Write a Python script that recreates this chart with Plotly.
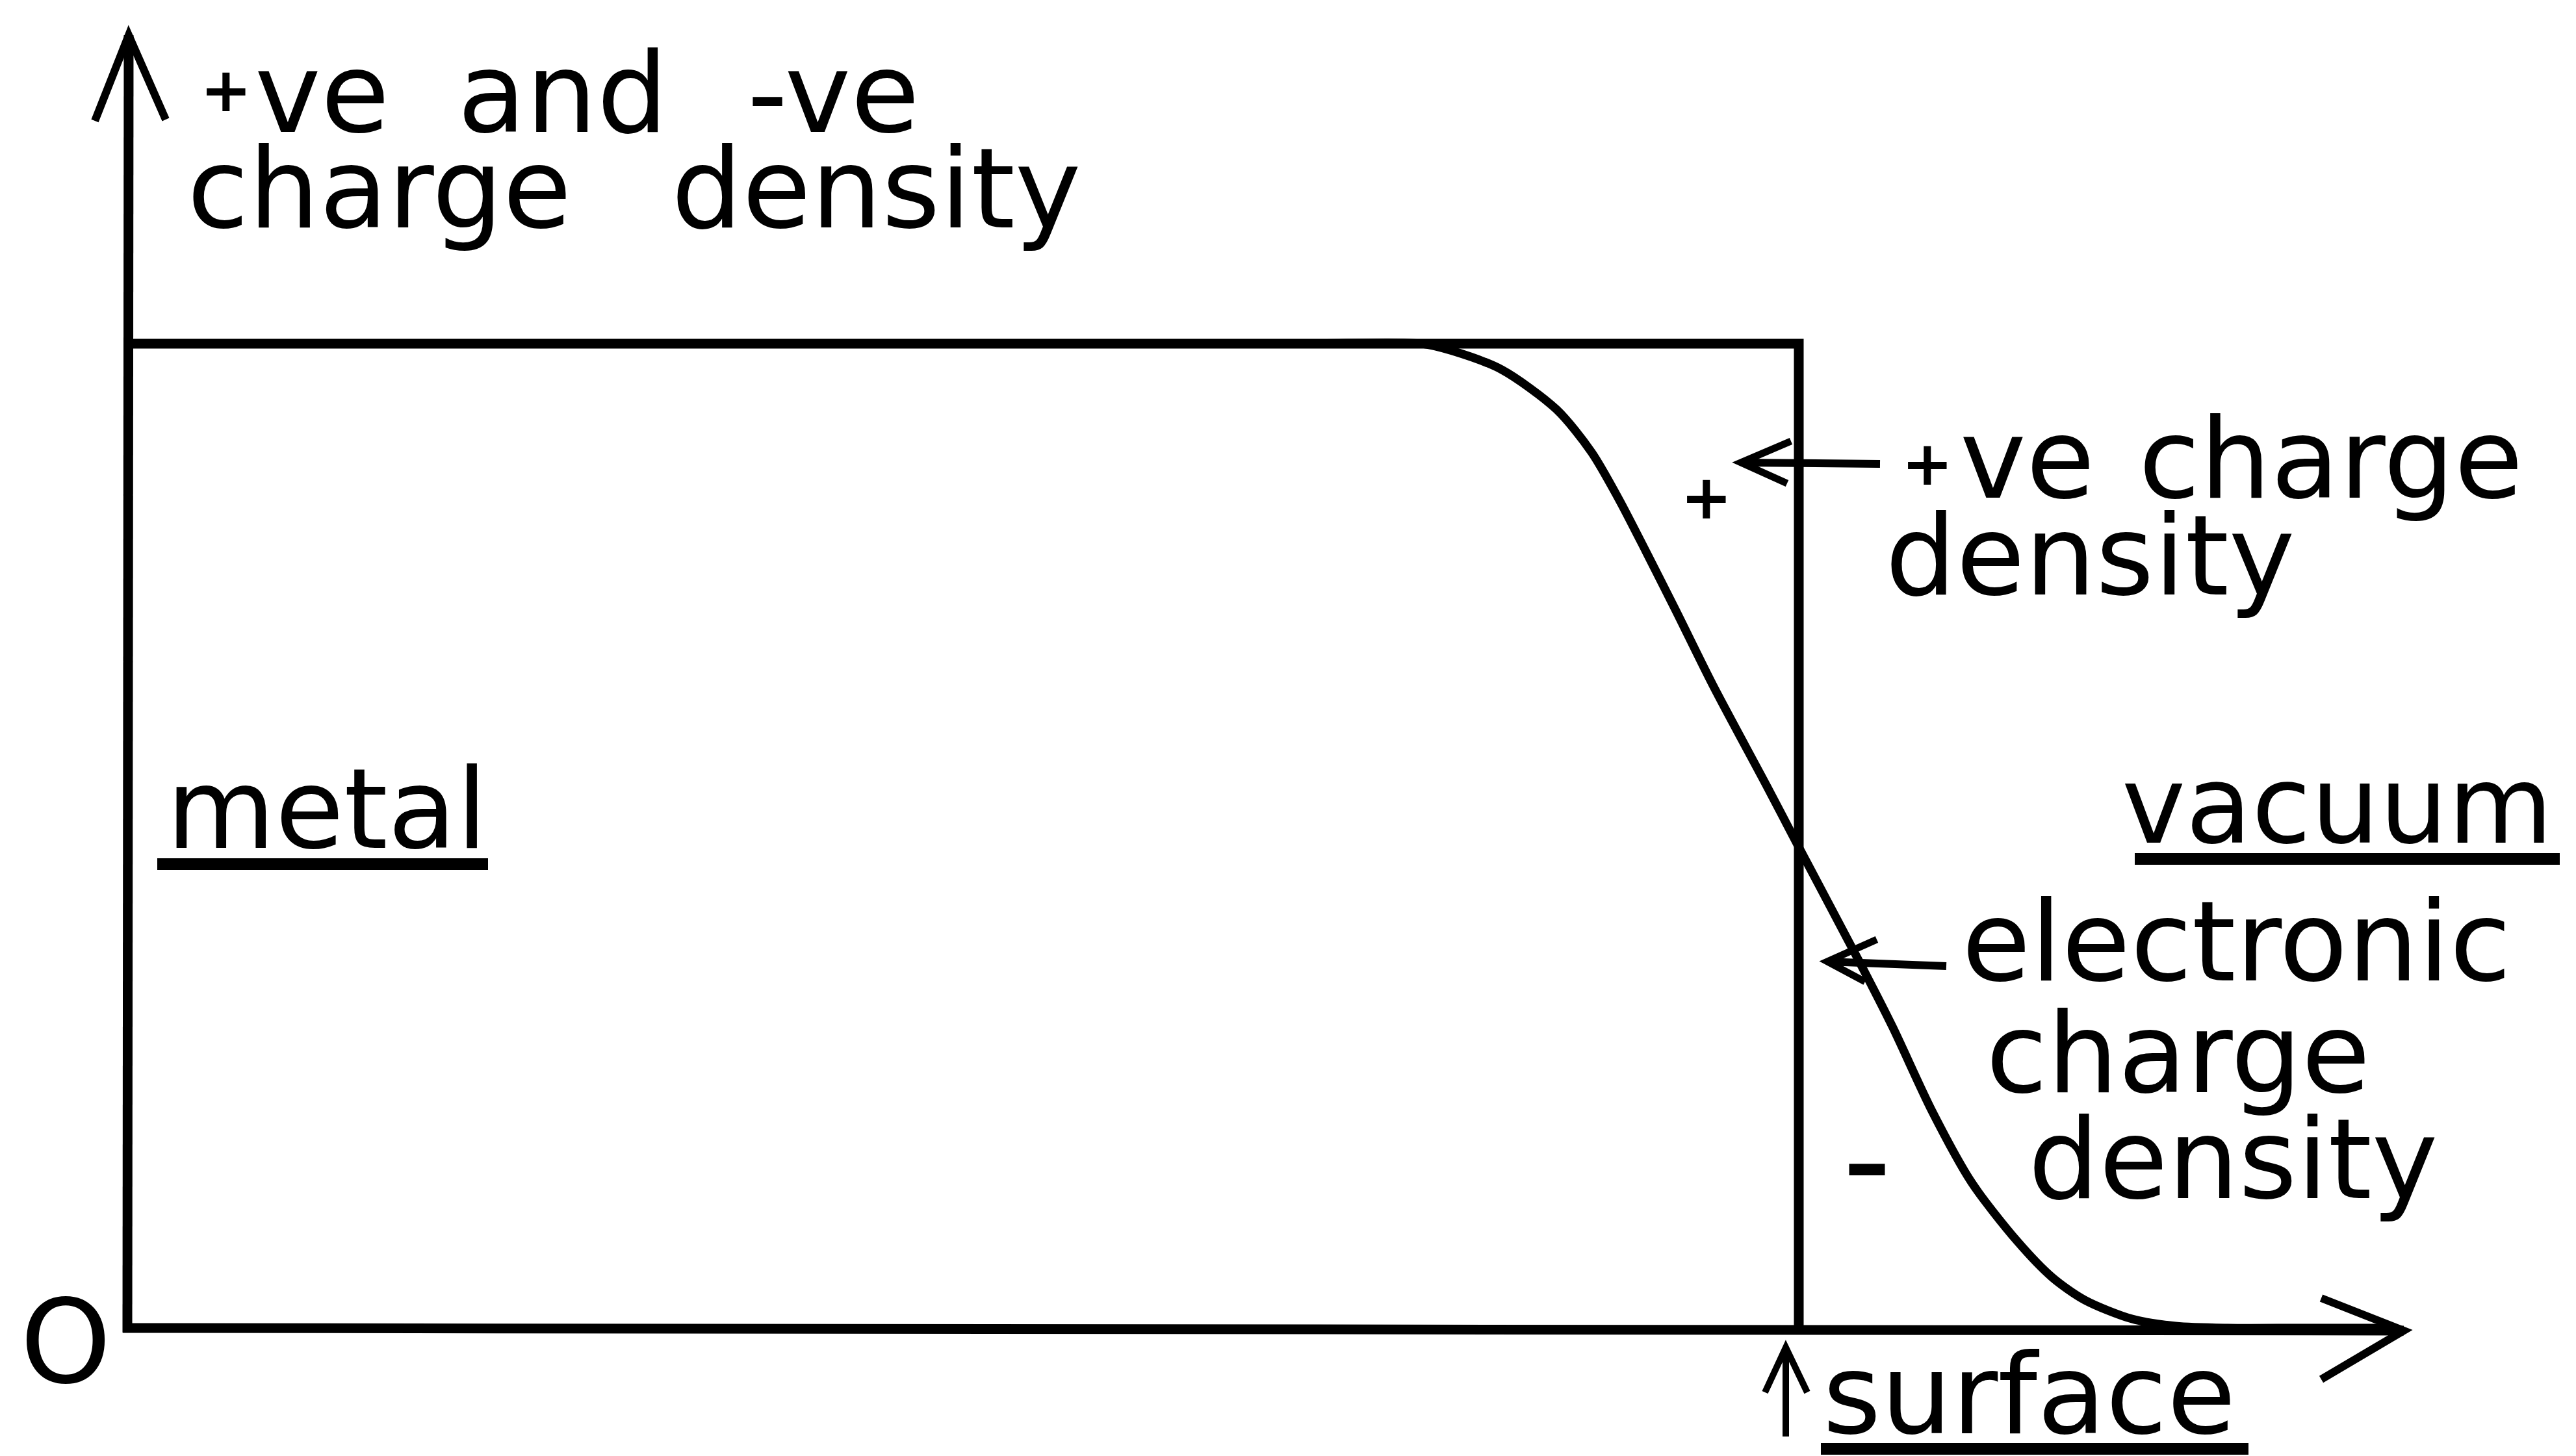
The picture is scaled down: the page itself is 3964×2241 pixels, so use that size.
import plotly.graph_objects as go

# ---------------- data ----------------
# positive (ionic) charge density: uniform up to the surface, then zero
depth_pos = [0.0, 1.0, 1.0]
density_pos = [1.0, 1.0, 0.0]

# electronic charge density, depth in units of surface position
depth_el = [0.0, 0.40, 0.70, 0.7745, 0.7928, 0.8223, 0.8550, 0.8760, 0.8923, 0.9086,
            0.9265, 0.9487, 0.9813, 0.9988, 1.0358, 1.056, 1.0797, 1.1034, 1.1306,
            1.1516, 1.1711, 1.1994, 1.2255, 1.2566, 1.30, 1.35]
density_el = [1.0, 1.0, 1.0, 1.0, 0.9927, 0.9736, 0.9333, 0.8898, 0.8422, 0.7888,
              0.7287, 0.6528, 0.5492, 0.4924, 0.3736, 0.3063, 0.2205, 0.1479, 0.0884,
              0.0515, 0.0284, 0.0092, 0.0020, 0.0, 0.0, 0.0]

y_label_words = ["+", "ve", "and", "-ve", "charge", "density"]
origin_label = "O"
region_labels = ["metal", "vacuum"]
pos_label = ["+", "ve", "charge", "density"]
el_label = ["electronic", "charge", "density"]
surface_label = "surface"
region_signs = ["+", "\u2013"]

# ---------------- geometry ----------------
W, H = 3964, 2241
X0_PX, X1_PX = 188, 2760      # pixel of depth 0 and depth 1 (surface)
Y0_PX, Y1_PX = 2036, 521      # pixel of density 0 and density 1
SX = X1_PX - X0_PX
SY = Y0_PX - Y1_PX


def px2x(px):
    return (px - X0_PX) / SX


def py2y(py):
    return (Y0_PX - py) / SY


FONT = "DejaVu Sans"
FS = 172
BLACK = "black"

fig = go.Figure()

fig.add_trace(go.Scatter(x=depth_pos, y=density_pos, mode="lines",
                         line=dict(color=BLACK, width=15), hoverinfo="skip"))
fig.add_trace(go.Scatter(x=depth_el, y=density_el, mode="lines",
                         line=dict(color=BLACK, width=13, shape="spline", smoothing=0.8,
                                   simplify=False),
                         hoverinfo="skip"))

shapes = []


def seg(p, q, width=14):
    shapes.append(dict(type="line", xref="x", yref="y",
                       x0=px2x(p[0]), y0=py2y(p[1]), x1=px2x(q[0]), y1=py2y(q[1]),
                       line=dict(color=BLACK, width=width), layer="above"))


def vee(a, tip, b, width=10):
    path = "M {},{} L {},{} L {},{}".format(px2x(a[0]), py2y(a[1]), px2x(tip[0]), py2y(tip[1]),
                                            px2x(b[0]), py2y(b[1]))
    shapes.append(dict(type="path", xref="x", yref="y", path=path,
                       line=dict(color=BLACK, width=width), layer="above"))


# axes
seg((X0_PX, Y0_PX + 7), (190, 46), 15)
seg((X0_PX - 7, Y0_PX), (3691, 2040), 15)
vee((138, 178), (190, 46), (247, 176), 12)
vee((3564, 1990), (3691, 2040), (3564, 2115), 12)

# pointer arrows
seg((2671, 704), (2885, 706), 12)
vee((2748, 671), (2671, 704), (2742, 736), 11)
seg((2804, 1472), (2987, 1479), 12)
vee((2880, 1438), (2804, 1472), (2862, 1503), 11)
seg((2740, 2203), (2740, 2068), 10)
vee((2708, 2135), (2740, 2066), (2773, 2135), 10)

# underlines
seg((234, 1322), (743, 1322), 18)
seg((3277, 1314), (3931, 1314), 18)
seg((2794, 2222), (3452, 2222), 18)

annotations = []


def label(text, x_px, base_px, size=FS, xanchor="left"):
    cy = base_px - 0.346 * size
    annotations.append(dict(text=text, xref="x", yref="y", x=px2x(x_px), y=py2y(cy),
                            xanchor=xanchor, yanchor="middle", showarrow=False,
                            font=dict(family=FONT, size=size, color=BLACK)))


def sign(text, cx, cy, size):
    annotations.append(dict(text="<b>" + text + "</b>", xref="x", yref="y",
                            x=px2x(cx), y=py2y(cy), xanchor="center", yanchor="middle",
                            showarrow=False, font=dict(family=FONT, size=size, color=BLACK)))


# y-axis title, word by word
sign(y_label_words[0], 340, 130, 95)
label(y_label_words[1], 382, 195)
label(y_label_words[2], 694, 195)
label(y_label_words[3], 1140, 195)
label(y_label_words[4], 278, 342)
label(y_label_words[5], 1023, 342)

# origin
annotations.append(dict(text=origin_label, xref="x", yref="y", x=px2x(93), y=py2y(2057),
                        xanchor="center", yanchor="middle", showarrow=False,
                        font=dict(family=FONT, size=178, color=BLACK)))

# region labels
label(region_labels[0], 246, 1297)
label(region_labels[1], 3922, 1289, size=166, xanchor="right")

# +ve charge density label
sign(pos_label[0], 2958, 705, 95)
label(pos_label[1], 3006, 758)
label(pos_label[2], 3281, 758)
label(pos_label[3], 2891, 907)

# electronic charge density label
label(el_label[0], 3009, 1501)
label(el_label[1], 3046, 1673)
label(el_label[2], 3111, 1836)

# surface
label(surface_label, 2795, 2198)

# + and - signs in the charge regions
sign(region_signs[0], 2618, 757, 95)
sign(region_signs[1], 2865, 1782, 140)

fig.update_layout(
    width=W, height=H, autosize=False,
    margin=dict(l=0, r=0, t=0, b=0, pad=0),
    paper_bgcolor="white", plot_bgcolor="white",
    showlegend=False,
    xaxis=dict(range=[px2x(0), px2x(W)], visible=False, fixedrange=True),
    yaxis=dict(range=[py2y(H), py2y(0)], visible=False, fixedrange=True),
    shapes=shapes, annotations=annotations,
)

fig.write_html("out.html")
